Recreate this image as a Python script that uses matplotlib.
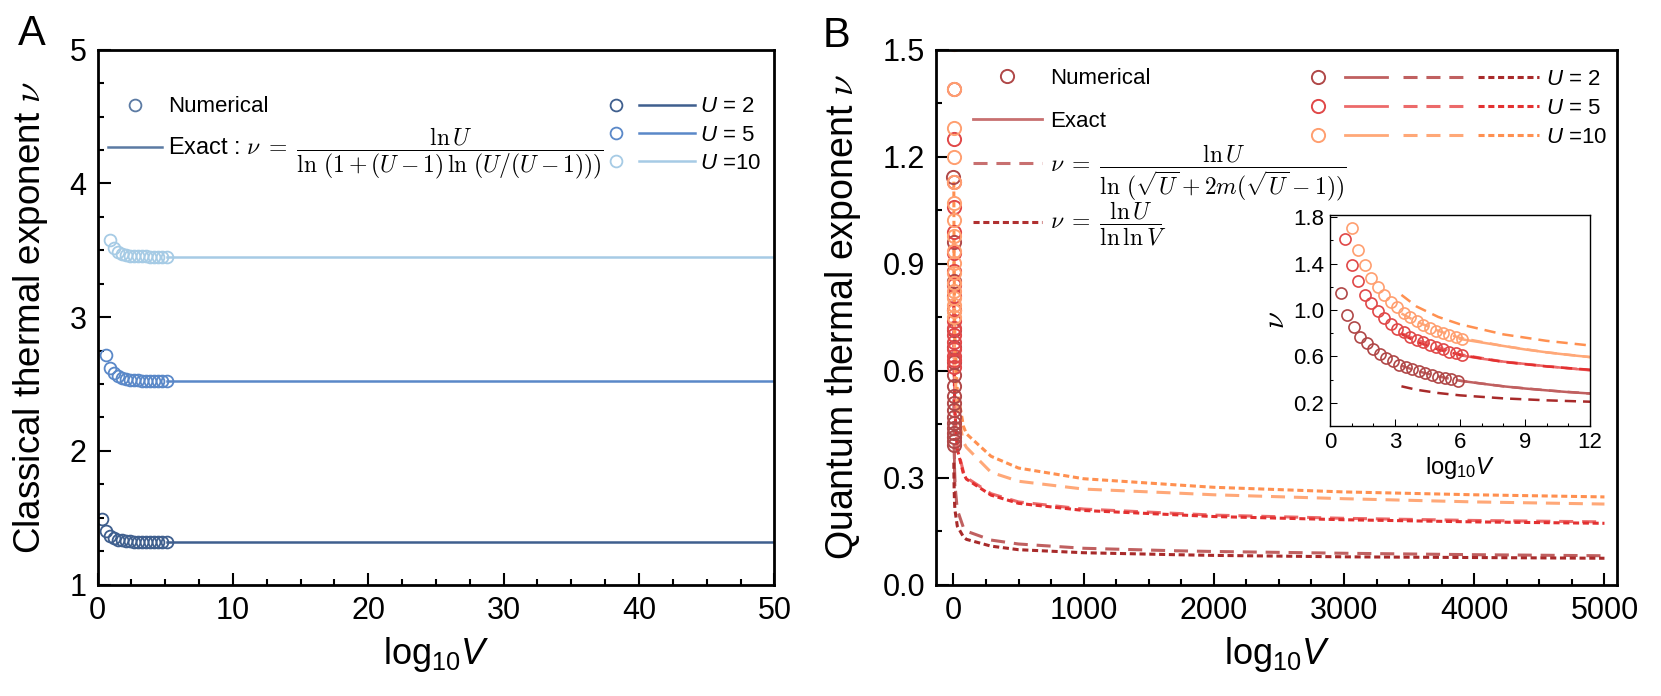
import numpy as np
import matplotlib
matplotlib.use('Agg')
import matplotlib.pyplot as plt
from matplotlib.lines import Line2D
from matplotlib.legend_handler import HandlerBase
from matplotlib.ticker import MultipleLocator, FixedLocator

plt.rcParams['font.family'] = ['Liberation Sans', 'DejaVu Sans']
plt.rcParams['mathtext.fontset'] = 'custom'
plt.rcParams['mathtext.rm'] = 'Liberation Sans'
plt.rcParams['mathtext.it'] = 'Liberation Sans:italic'
plt.rcParams['mathtext.bf'] = 'Liberation Sans:bold'

# ---------------- data: panel A (classical) ----------------
U_labels = ['$U$ = 2', '$U$ = 5', '$U$ =10']

a_x2 = [0.3, 0.6, 0.9, 1.2, 1.5, 1.8, 2.1, 2.4, 2.7, 3.0, 3.3, 3.6, 3.9, 4.2, 4.5, 4.8, 5.1]
a_y2 = [1.49, 1.40, 1.365, 1.347, 1.337, 1.331, 1.327, 1.324, 1.322, 1.321, 1.320,
        1.319, 1.318, 1.318, 1.317, 1.317, 1.317]
a_x5 = [0.6, 0.9, 1.2, 1.5, 1.8, 2.1, 2.4, 2.7, 3.0, 3.3, 3.6, 3.9, 4.2, 4.5, 4.8, 5.1]
a_y5 = [2.72, 2.62, 2.585, 2.563, 2.547, 2.538, 2.533, 2.529, 2.527, 2.526, 2.525,
        2.524, 2.524, 2.523, 2.523, 2.523]
a_x10 = [0.9, 1.2, 1.5, 1.8, 2.1, 2.4, 2.7, 3.0, 3.3, 3.6, 3.9, 4.2, 4.5, 4.8, 5.1]
a_y10 = [3.58, 3.515, 3.49, 3.473, 3.464, 3.459, 3.457, 3.455, 3.454, 3.454, 3.453,
         3.453, 3.453, 3.453, 3.453]
a_exact_x = [5.1, 50]
a_exact = [1.316, 2.523, 3.453]

# ---------------- data: panel B (quantum) ----------------
b_x2 = [0.5, 0.8, 1.1, 1.4, 1.7, 2.0, 2.3, 2.6, 2.9, 3.2, 3.5, 3.8, 4.1, 4.4, 4.7, 5.0, 5.3, 5.6, 5.9]
b_y2 = [1.143, 0.960, 0.851, 0.771, 0.714, 0.666, 0.623, 0.589, 0.557, 0.529, 0.509,
        0.489, 0.471, 0.454, 0.440, 0.426, 0.414, 0.403, 0.391]
b_x5 = [0.7, 1.0, 1.3, 1.6, 1.9, 2.2, 2.5, 2.8, 3.1, 3.4, 3.7, 4.0, 4.3, 4.6, 4.9, 5.2, 5.5, 5.8, 6.1]
b_y5 = [1.61, 1.39, 1.25, 1.13, 1.06, 0.99, 0.93, 0.88, 0.84, 0.81, 0.77, 0.74, 0.72,
        0.70, 0.68, 0.66, 0.64, 0.63, 0.61]
b_x10 = [1.0, 1.3, 1.6, 1.9, 2.2, 2.5, 2.8, 3.1, 3.4, 3.7, 4.0, 4.3, 4.6, 4.9, 5.2, 5.5, 5.8, 6.1]
b_y10 = [1.709, 1.517, 1.389, 1.28, 1.20, 1.129, 1.071, 1.023, 0.977, 0.937, 0.903,
         0.874, 0.846, 0.823, 0.803, 0.783, 0.766, 0.751]

# exact curves (only up to log10 V = 12)
ex_x = [6.0, 7.0, 8.0, 9.0, 10.0, 11.0, 12.0]
ex_y2 = [0.39, 0.365, 0.342, 0.323, 0.307, 0.292, 0.28]
ex_y5 = [0.61, 0.58, 0.555, 0.535, 0.515, 0.497, 0.48]
ex_y10 = [0.75, 0.72, 0.69, 0.66, 0.635, 0.613, 0.594]

# approximate curves
ap_x = [3.3, 4, 5, 6, 8, 10, 12, 30, 77, 100, 289, 500, 1000, 1700, 2000, 3000, 4000, 5000]
long_y2 = [0.52, 0.475, 0.427, 0.39, 0.342, 0.307, 0.28, 0.21, 0.16, 0.15, 0.125, 0.114,
           0.102, 0.095, 0.093, 0.088, 0.084, 0.081]
long_y5 = [0.80, 0.745, 0.68, 0.618, 0.555, 0.515, 0.482, 0.385, 0.316, 0.30, 0.255, 0.232,
           0.212, 0.20, 0.195, 0.186, 0.18, 0.176]
long_y10 = [0.97, 0.90, 0.82, 0.76, 0.69, 0.635, 0.594, 0.49, 0.40, 0.385, 0.315, 0.29,
            0.268, 0.257, 0.252, 0.241, 0.232, 0.226]
short_y2 = [0.342, 0.312, 0.284, 0.264, 0.238, 0.221, 0.209, 0.164, 0.134, 0.127, 0.108,
            0.098, 0.0895, 0.084, 0.082, 0.078, 0.076, 0.074]
short_y5 = [0.793, 0.725, 0.659, 0.613, 0.552, 0.513, 0.485, 0.38, 0.311, 0.296, 0.251,
            0.228, 0.208, 0.196, 0.191, 0.182, 0.176, 0.172]
short_y10 = [1.13, 1.03, 0.94, 0.877, 0.79, 0.734, 0.694, 0.544, 0.444, 0.423, 0.36,
             0.327, 0.297, 0.28, 0.273, 0.26, 0.252, 0.246]

# colours
blues = ['#3f5f8e', '#5a88c8', '#a6cbe5']
circ_c = ['#b04848', '#e04848', '#ff9f70']
long_c = ['#c06060', '#ec6a6a', '#ffa878']
short_c = ['#a82a2a', '#e33030', '#ff9050']

LONG = (4.6, 2.9)
SHORT = (2, 1.2)


class RowHandler(HandlerBase):
    """draws a tuple of handles side by side at given fractions of the handle box"""
    def __init__(self, spans):
        super().__init__()
        self.spans = spans

    def create_artists(self, legend, orig_handle, xdescent, ydescent,
                       width, height, fontsize, trans):
        arts = []
        y = height / 2 - ydescent
        for h, (a, b) in zip(orig_handle, self.spans):
            x0 = -xdescent + a * width
            x1 = -xdescent + b * width
            if a == b:
                ln = Line2D([x0], [y])
            else:
                ln = Line2D([x0, x1], [y, y])
            self.update_prop(ln, h, legend)
            ln.set_transform(trans)
            arts.append(ln)
        return arts


def style_axis(ax, lw=2.0, maj=9, mnr=4.5, size=22):
    for s in ax.spines.values():
        s.set_linewidth(lw)
    ax.tick_params(which='both', direction='in', width=lw * 0.75, labelsize=size, pad=8)
    ax.tick_params(which='major', length=maj)
    ax.tick_params(which='minor', length=mnr)
    ax.tick_params(top=False, right=False)


def plain_legend(ax, handles, labels, anchor, mathsize=None, **kw):
    opts = dict(loc='upper left', frameon=False, fontsize=16, borderpad=0,
                borderaxespad=0)
    opts.update(kw)
    leg = ax.legend(handles, labels, bbox_to_anchor=anchor, **opts)
    for t in leg.get_texts():
        t.set_math_fontfamily('cm')
        if mathsize and '$' in t.get_text():
            t.set_fontsize(mathsize)
    ax.add_artist(leg)
    return leg


fig = plt.figure(figsize=(16.61, 6.96), dpi=100)

# ================= Panel A =================
axA = fig.add_axes([0.0587, 0.160, 0.4075, 0.7685])
for xs, ys, ev, c in zip([a_x2, a_x5, a_x10], [a_y2, a_y5, a_y10], a_exact, blues):
    axA.plot(a_exact_x, [ev, ev], color=c, lw=1.8)
    axA.plot(xs, ys, ls='none', marker='o', ms=8.5, mfc='none', mec=c, mew=1.3)
axA.set_xlim(0, 50)
axA.set_ylim(1, 5)
axA.xaxis.set_major_locator(MultipleLocator(10))
axA.xaxis.set_minor_locator(MultipleLocator(2.5))
axA.yaxis.set_major_locator(MultipleLocator(1))
axA.yaxis.set_minor_locator(MultipleLocator(0.25))
style_axis(axA)
axA.set_xlabel('log$_{10}$$V$', fontsize=26)
axA.set_ylabel(r'Classical thermal exponent $\nu$', fontsize=26.5, math_fontfamily='cm')
axA.yaxis.set_label_coords(-0.070, 0.5)
axA.xaxis.set_label_coords(0.5, -0.095)

hA1 = [Line2D([], [], ls='none', marker='o', ms=8.5, mfc='none', mec='#5b7aa3', mew=1.3),
       Line2D([], [], color='#5b7aa3', lw=1.8)]
labA1 = ['Numerical',
         r'Exact : $\nu\;=\;\dfrac{\ln U}{\ln\,(1+(U-1)\,\ln\,(U/(U-1)))}$']
plain_legend(axA, hA1, labA1, (0.0155, 0.913), mathsize=17,
             handlelength=2.45, handletextpad=0.27, labelspacing=0.38)

hA2 = [(Line2D([], [], ls='none', marker='o', ms=8.5, mfc='none', mec=c, mew=1.3),
        Line2D([], [], color=c, lw=1.8)) for c in blues]
axA.legend(hA2, U_labels, loc='upper left', bbox_to_anchor=(0.751, 0.913),
           frameon=False, fontsize=16, borderpad=0, borderaxespad=0,
           handlelength=4.0, handletextpad=0.25, labelspacing=0.33,
           handler_map={tuple: RowHandler([(0.114, 0.114), (0.375, 1.0)])})

fig.text(0.011, 0.935, 'A', fontsize=30)

# ================= Panel B =================
axB = fig.add_axes([0.5638, 0.160, 0.410, 0.7685])
for i, (ys, ls_, ss_) in enumerate(zip([long_y2, long_y5, long_y10],
                                       [short_y2, short_y5, short_y10],
                                       [ex_y2, ex_y5, ex_y10])):
    axB.plot(ex_x, ss_, color=long_c[i], lw=2.0)
    axB.plot(ap_x, ys, color=long_c[i], lw=2.2, dashes=LONG)
    axB.plot(ap_x, ls_, color=short_c[i], lw=2.2, dashes=SHORT)
for xs, ys, c in zip([b_x2, b_x5, b_x10], [b_y2, b_y5, b_y10], circ_c):
    axB.plot(xs, ys, ls='none', marker='o', ms=9.5, mfc='none', mec=c, mew=1.4)
axB.set_xlim(-130, 5100)
axB.set_ylim(0, 1.5)
axB.xaxis.set_major_locator(MultipleLocator(1000))
axB.xaxis.set_minor_locator(MultipleLocator(250))
axB.yaxis.set_major_locator(MultipleLocator(0.3))
axB.yaxis.set_minor_locator(MultipleLocator(0.15))
style_axis(axB)
axB.set_xlabel('log$_{10}$$V$', fontsize=26)
axB.set_ylabel(r'Quantum thermal exponent $\nu$', fontsize=27, math_fontfamily='cm')
axB.yaxis.set_label_coords(-0.108, 0.5)
axB.xaxis.set_label_coords(0.5, -0.095)

hB1 = [Line2D([], [], ls='none', marker='o', ms=9.5, mfc='none', mec='#b04848', mew=1.4),
       Line2D([], [], color='#c87070', lw=2.0)]
plain_legend(axB, hB1, ['Numerical', 'Exact'], (0.0537, 0.9655),
             handlelength=3.1, handletextpad=0.35, labelspacing=0.96)

hB1b = [Line2D([], [], color='#c87070', lw=2.2, dashes=LONG),
        Line2D([], [], color='#b03030', lw=2.2, dashes=SHORT)]
labB1b = [r'$\nu\;=\;\dfrac{\ln U}{\ln\,(\sqrt{U}+2m(\sqrt{U}-1))}$',
          r'$\nu\;=\;\dfrac{\ln U}{\ln\ln V}$']
plain_legend(axB, hB1b, labB1b, (0.0537, 0.828), mathsize=17,
             handlelength=3.1, handletextpad=0.35, labelspacing=-0.12)

hB2 = [(Line2D([], [], ls='none', marker='o', ms=9.5, mfc='none', mec=circ_c[i], mew=1.4),
        Line2D([], [], color=long_c[i], lw=2.0),
        Line2D([], [], color=long_c[i], lw=2.2, dashes=LONG),
        Line2D([], [], color=short_c[i], lw=2.2, dashes=SHORT)) for i in range(3)]
axB.legend(hB2, U_labels, loc='upper left', bbox_to_anchor=(0.5427, 0.9645),
           frameon=False, fontsize=16, borderpad=0, borderaxespad=0,
           handlelength=10.5, handletextpad=0.3, labelspacing=0.36,
           handler_map={tuple: RowHandler([(0.05, 0.05), (0.168, 0.349),
                                           (0.414, 0.677), (0.737, 1.0)])})

fig.text(0.495, 0.932, 'B', fontsize=30)

# ================= inset =================
axI = fig.add_axes([0.8007, 0.388, 0.1565, 0.3032])
for i, (ys, ls_, ss_) in enumerate(zip([long_y2, long_y5, long_y10],
                                       [short_y2, short_y5, short_y10],
                                       [ex_y2, ex_y5, ex_y10])):
    axI.plot(ex_x, ss_, color=long_c[i], lw=1.8)
    axI.plot(ap_x, ys, color=long_c[i], lw=1.8, dashes=LONG)
    axI.plot(ap_x, ls_, color=short_c[i], lw=1.8, dashes=(4.5, 2.8))
for xs, ys, c in zip([b_x2, b_x5, b_x10], [b_y2, b_y5, b_y10], circ_c):
    axI.plot(xs, ys, ls='none', marker='o', ms=8, mfc='none', mec=c, mew=1.2)
axI.set_xlim(0, 12)
axI.set_ylim(0, 1.82)
axI.xaxis.set_major_locator(MultipleLocator(3))
axI.xaxis.set_minor_locator(MultipleLocator(1))
axI.yaxis.set_major_locator(FixedLocator([0.2, 0.6, 1.0, 1.4, 1.8]))
axI.yaxis.set_minor_locator(FixedLocator([0.4, 0.8, 1.2, 1.6]))
style_axis(axI, lw=1.0, maj=5, mnr=2.5, size=16)
axI.tick_params(pad=4)
axI.set_xlabel('log$_{10}$$V$', fontsize=17, labelpad=2)
axI.set_ylabel(r'$\nu$', fontsize=22, math_fontfamily='cm', labelpad=2)

fig.savefig('out.png', dpi=100)
